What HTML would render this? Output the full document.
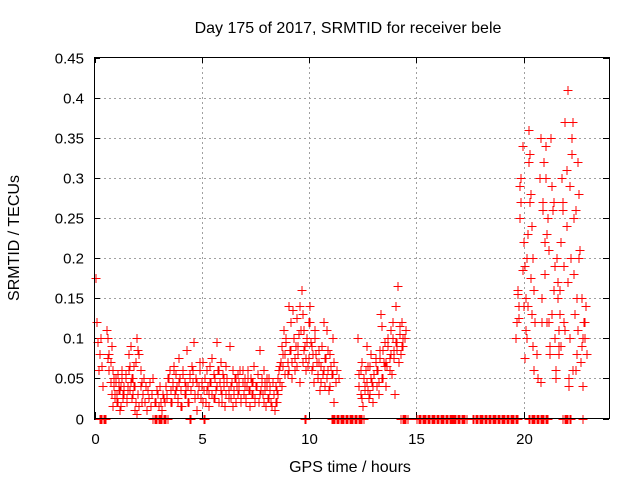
<!DOCTYPE html>
<html><head><meta charset="utf-8"><style>
body{margin:0;background:#fff}
svg{display:block;font-family:"Liberation Sans",sans-serif}
</style></head><body>
<svg id="chart" width="640" height="480">
<text x="348" y="33" text-anchor="middle" font-size="16">Day 175 of 2017, SRMTID for receiver bele</text>
<text x="350" y="472" text-anchor="middle" font-size="16">GPS time / hours</text>
<text transform="translate(19,238) rotate(-90)" text-anchor="middle" font-size="16">SRMTID / TECUs</text>
<g id="grid"></g><g id="ticks"></g><g id="marks"></g>
<rect x="94.5" y="57.5" width="515" height="361" fill="none" stroke="#000"/>
</svg>
<script>
const xTicks=[0,5,10,15,20];
const yTicks=[0,0.05,0.1,0.15,0.2,0.25,0.3,0.35,0.4,0.45];
const yTickLabels=["0","0.05","0.1","0.15","0.2","0.25","0.3","0.35","0.4","0.45"];
const segStart=[0.0,0.55,0.6,2.8,3.3,3.35,8.5,8.6,12.25,12.3,19.6,19.7,20.7,20.75,21.6,21.65];
const segStep=[0.05,0.05,0.05,0.05,0.05,0.08,0.05,0.07,0.05,0.07,0.05,0.05,0.05,0.06,0.05,0.06];
const segValues=[
[0.175,0.12,0.095,0.06,0.08,0.1,0.065,0.04],
[0.11,0.1,0.08,0.07,0.09,0.06,0.05,0.03,0.045,0.02,0.055,0.035,0.01,0.04,0.05,0.025,0.03,0.055,0.02,0.04,0.06,0.035,0.045,0.025,0.05,0.065,0.04,0.07,0.1,0.085,0.08,0.06,0.045,0.03,0.05,0.02,0.04,0.01,0.035,0.025,0.045,0.015,0.03,0.05,0.02],
[0.075,0.06,0.045,0.03,0.015,0.04,0.025,0.05,0.03,0.02,0.045,0.035,0.015,0.06,0.03,0.04,0.05,0.025,0.035,0.08,0.065,0.09,0.05,0.03,0.04,0.01,0.02,0.005,0.03,0.015,0.04,0.02],
[0.02,0.035,0.03,0.015,0.04,0.02,0.01,0.03,0.025,0.02],
[0.04,0.025,0.05,0.06,0.035,0.02,0.045,0.065,0.03,0.055,0.04,0.02,0.075,0.05,0.035,0.015,0.06,0.045,0.03,0.085,0.04,0.02,0.055,0.035,0.065,0.045,0.095,0.03,0.05,0.01,0.04,0.06,0.025,0.045,0.07,0.035,0.05,0.02,0.06,0.04,0.03,0.065,0.045,0.075,0.025,0.05,0.035,0.095,0.06,0.02,0.045,0.07,0.03,0.055,0.04,0.015,0.065,0.05,0.035,0.09,0.025,0.045,0.06,0.03,0.05,0.02,0.04,0.055,0.035,0.06,0.025,0.045,0.03,0.05,0.02,0.04,0.06,0.035,0.015,0.05,0.03,0.045,0.065,0.025,0.04,0.055,0.02,0.085,0.035,0.05,0.03,0.06,0.045,0.015,0.04,0.025,0.05,0.035,0.02,0.045,0.03,0.01,0.04,0.02,0.03],
[0.03,0.05,0.02,0.04,0.06,0.035,0.025,0.045,0.015,0.055,0.03,0.04,0.02,0.05,0.035,0.06,0.025,0.045,0.03,0.07,0.04,0.02,0.05,0.035,0.015,0.045,0.03,0.055,0.025,0.04,0.06,0.035,0.02,0.05,0.03,0.045,0.025,0.04,0.015,0.035,0.05,0.03,0.045,0.02,0.06,0.04,0.025,0.05,0.035,0.045,0.03,0.02,0.04,0.055,0.03,0.045,0.02,0.035,0.05,0.025,0.04,0.015,0.03,0.02,0.035],
[0.05,0.06,0.045,0.07,0.09,0.065,0.11,0.08,0.1,0.055,0.14,0.085,0.12,0.07,0.135,0.1,0.06,0.09,0.125,0.08,0.105,0.14,0.16,0.13,0.11,0.09,0.075,0.1,0.065,0.12,0.14,0.095,0.06,0.08,0.045,0.11,0.07,0.05,0.085,0.035,0.065,0.09,0.055,0.12,0.04,0.075,0.11,0.06,0.035,0.08,0.055,0.1,0.02],
[0.065,0.04,0.08,0.055,0.095,0.07,0.06,0.085,0.05,0.1,0.075,0.065,0.09,0.045,0.11,0.07,0.085,0.06,0.095,0.075,0.12,0.09,0.065,0.1,0.08,0.055,0.07,0.045,0.09,0.06,0.075,0.05,0.085,0.04,0.065,0.055,0.07,0.045,0.06,0.05],
[0.1,0.055,0.03,0.07,0.015,0.05,0.04,0.06,0.09,0.035,0.025,0.065,0.08,0.045,0.02,0.055,0.075,0.04,0.06,0.03,0.085,0.13,0.115,0.05,0.07,0.095,0.04,0.065,0.1,0.075,0.11,0.055,0.12,0.085,0.03,0.14,0.095,0.165,0.07,0.115,0.08,0.12,0.09,0.1,0.11],
[0.04,0.06,0.025,0.05,0.035,0.045,0.065,0.03,0.05,0.04,0.055,0.07,0.06,0.045,0.075,0.05,0.085,0.065,0.07,0.09,0.06,0.08,0.1,0.075,0.095,0.085,0.07,0.105,0.09,0.1],
[0.1,0.12,0.16,0.14,0.25,0.27,0.34,0.22,0.19,0.15,0.1,0.14,0.36,0.33,0.28,0.24,0.2,0.16,0.12,0.08,0.05],
[0.155,0.125,0.29,0.3,0.185,0.14,0.075,0.11,0.2,0.23,0.32,0.27,0.175,0.13,0.09,0.06],
[0.3,0.35,0.12,0.27,0.32,0.18,0.34,0.23,0.25,0.12,0.09,0.29,0.26,0.16,0.1,0.06,0.2,0.15,0.11],
[0.045,0.15,0.26,0.22,0.3,0.12,0.21,0.08,0.35,0.13,0.27,0.19,0.05,0.17,0.09],
[0.08,0.16,0.22,0.3,0.26,0.12,0.37,0.31,0.41,0.05,0.1,0.2,0.33,0.37,0.25,0.13,0.06,0.15,0.32,0.28,0.21,0.09,0.04,0.12,0.1,0.14,0.08],
[0.13,0.09,0.27,0.19,0.11,0.24,0.17,0.04,0.29,0.35,0.06,0.18,0.26,0.08,0.11,0.2,0.07,0.15,0.1,0.12]
];
const zeroStart=[0.2,2.7,4.4,5.05,9.75,11.0,14.25,15.0,16.7,17.6,20.2,21.8,22.7];
const zeroEnd=[0.55,3.4,4.5,5.15,9.85,12.5,14.55,16.8,17.3,19.7,21.1,22.2,22.7];
const NS='http://www.w3.org/2000/svg';
const X=h=>94.5+h*21.46, Y=v=>418.5-v*802.2;
function mk(t,a,p){const e=document.createElementNS(NS,t);for(const k in a)e.setAttribute(k,a[k]);p.appendChild(e);return e;}
const grid=document.getElementById('grid'),ticks=document.getElementById('ticks'),marks=document.getElementById('marks');
xTicks.forEach(t=>{const x=Math.round(X(t))+0.5;
 if(t>0){const g=mk('line',{x1:x,x2:x,y1:57,y2:418,stroke:'#a0a0a0','stroke-dasharray':'2,3'},grid);
 
 }
 mk('line',{x1:x,x2:x,y1:418,y2:412,stroke:'#000'},ticks);mk('line',{x1:x,x2:x,y1:57,y2:63,stroke:'#000'},ticks);
 const l=mk('text',{x:x,y:444,'text-anchor':'middle','font-size':15},ticks);l.textContent=t;
 
 });
yTicks.forEach((t,i)=>{const y=Math.round(Y(t))+0.5;
 if(t>0&&t<0.45){const g=mk('line',{x1:94,x2:609,y1:y,y2:y,stroke:'#a0a0a0','stroke-dasharray':'2,3'},grid);
 
 }
 mk('line',{x1:94,x2:100,y1:y,y2:y,stroke:'#000'},ticks);mk('line',{x1:603,x2:609,y1:y,y2:y,stroke:'#000'},ticks);
 const l=mk('text',{x:84,y:y+5,'text-anchor':'end','font-size':15},ticks);l.textContent=yTickLabels[i];
 
 });
function cross(h,v){const x=Math.round(X(h))+0.5,y=Math.round(Y(v))+0.5;
 const p=mk('path',{d:`M${x-4},${y}h9M${x+0.5},${y-4.5}v9`,stroke:'#ff0000','stroke-width':1,fill:'none'},marks);
 
 }
segValues.forEach((vals,s)=>vals.forEach((v,i)=>cross(segStart[s]+i*segStep[s],v)));
zeroStart.forEach((a,i)=>{for(let h=a;h<=zeroEnd[i]+1e-9;h+=0.06)cross(h,0);});
</script>
</body></html>
